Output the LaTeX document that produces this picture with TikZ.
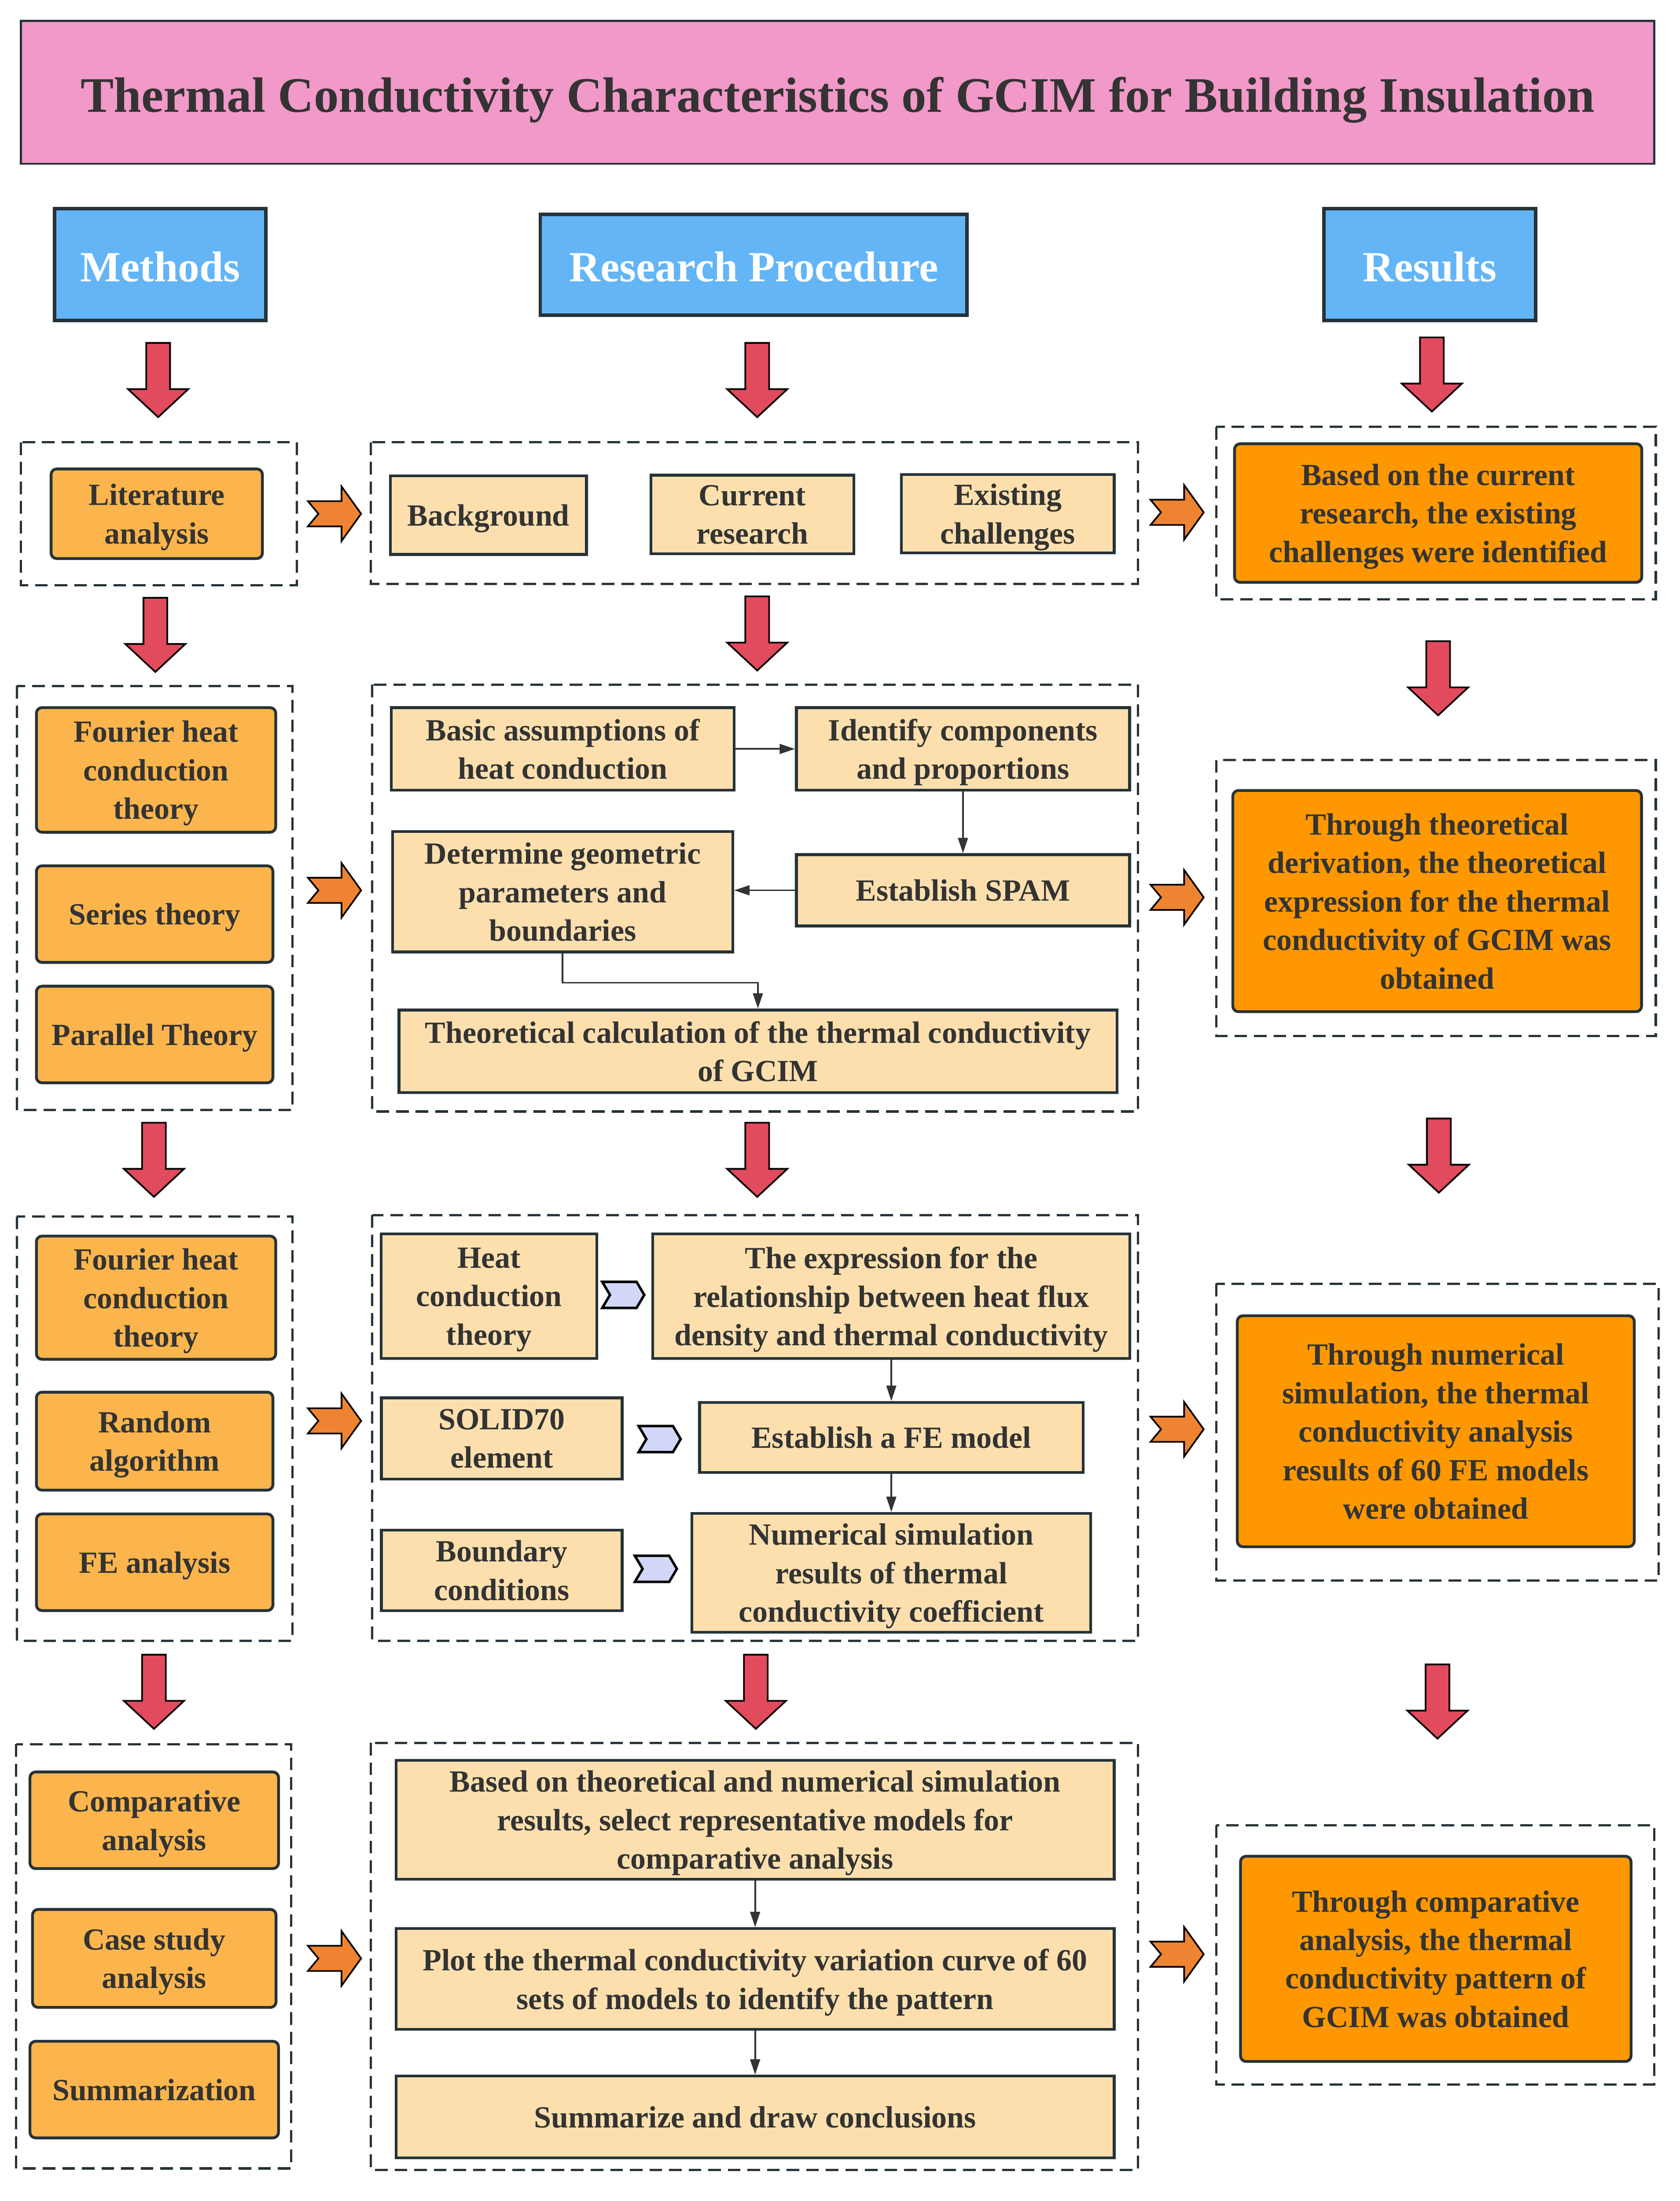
\documentclass[tikz,border=0pt]{standalone}
\usepackage{fontspec}
\setmainfont{Liberation Serif}
\usetikzlibrary{arrows.meta}
\definecolor{TitlePink}{HTML}{F199C8}
\definecolor{HeadBlue}{HTML}{64B5F6}
\definecolor{MethOrange}{HTML}{FBB54C}
\definecolor{StepPeach}{HTML}{FDDFAE}
\definecolor{ResOrange}{HTML}{FF9800}
\definecolor{ArrowRed}{HTML}{E24A5E}
\definecolor{ArrowOrange}{HTML}{EE8431}
\definecolor{ChevronBlue}{HTML}{D3D7F7}
\definecolor{EdgeDark}{HTML}{263238}
\definecolor{TextDark}{HTML}{333333}

\begin{document}
\begin{tikzpicture}[x=1pt, y=-1pt,
    box/.style={draw=EdgeDark, line width=2pt, align=center, text=TextDark, inner sep=2pt,
        text depth=0pt, font=\fontsize{22}{27.5}\selectfont\bfseries},
    methbox/.style={box, fill=MethOrange, rounded corners=4pt},
    stepbox/.style={box, fill=StepPeach},
    resbox/.style={box, fill=ResOrange, rounded corners=4pt},
    headbox/.style={draw=EdgeDark, line width=2.5pt, fill=HeadBlue, text=white,
        text height=24pt, text depth=0pt, font=\fontsize{30.7}{36}\selectfont\bfseries},
    titlebox/.style={draw=EdgeDark, line width=1.5pt, fill=TitlePink, text=TextDark,
        text height=28pt, text depth=0pt, font=\fontsize{35.5}{42}\selectfont\bfseries},
    groupbox/.style={draw=EdgeDark, line width=1.6pt, dash pattern=on 9pt off 5pt},
    link/.style={draw=TextDark, line width=1.2pt, -{Triangle[length=11pt,width=7pt]}},
    redarrow/.style={draw=black, line width=1.2pt, fill=ArrowRed, line join=miter},
    orangearrow/.style={draw=black, line width=1.2pt, fill=ArrowOrange, line join=miter},
    chevron/.style={draw=black, line width=1.8pt, fill=ChevronBlue, line join=miter}]

    \fill[white] (0,0) rectangle (1200,1572.3);
    \useasboundingbox (0,0) rectangle (1200,1572.3);

    \node[titlebox, minimum width=1167pt, minimum height=102pt] (title) at (598.5,66)
        {Thermal Conductivity Characteristics of GCIM for Building Insulation};

    \node[headbox, minimum width=151pt, minimum height=80pt] (methods) at (114.5,189) {Methods};
    \node[headbox, minimum width=305pt, minimum height=72pt] (procedure) at (538.5,189) {Research Procedure};
    \node[headbox, minimum width=151pt, minimum height=80pt] (results) at (1021.5,189) {Results};

    % dashed groups
    \draw[groupbox] (15,316) rectangle (212,418);
    \draw[groupbox] (265,316) rectangle (813,417);
    \draw[groupbox] (869,305) rectangle (1183,428);
    \draw[groupbox] (12,490) rectangle (209,793);
    \draw[groupbox] (266,489) rectangle (813,794);
    \draw[groupbox] (869,543) rectangle (1183,740);
    \draw[groupbox] (12,869) rectangle (209,1172);
    \draw[groupbox] (266,868) rectangle (813,1172);
    \draw[groupbox] (869,917) rectangle (1185,1129);
    \draw[groupbox] (11.5,1246) rectangle (208,1549);
    \draw[groupbox] (265,1245) rectangle (813,1550);
    \draw[groupbox] (869,1304) rectangle (1182,1489);

    % first stage
    \node[methbox, minimum width=151pt, minimum height=64pt] (lit) at (112,367) {Literature\\analysis};
    \node[stepbox, minimum width=140pt, minimum height=56pt] (backgr) at (349,368) {Background};
    \node[stepbox, minimum width=145pt, minimum height=56pt] (current) at (537.5,367.5) {Current\\research};
    \node[stepbox, minimum width=152pt, minimum height=56pt] (existing) at (720,367) {Existing\\challenges};
    \node[resbox, minimum width=291pt, minimum height=99pt] (res1) at (1027.5,366.5)
        {Based on the current\\research, the existing\\challenges were identified};

    % second stage
    \node[methbox, minimum width=171pt, minimum height=89pt] (fourier1) at (111.5,550) {Fourier heat\\conduction\\theory};
    \node[methbox, minimum width=169pt, minimum height=69pt] (series) at (110.5,653) {Series theory};
    \node[methbox, minimum width=169pt, minimum height=69pt] (parallel) at (110.5,739) {Parallel Theory};
    \node[stepbox, minimum width=245pt, minimum height=59pt] (basic) at (402,535) {Basic assumptions of\\heat conduction};
    \node[stepbox, minimum width=238pt, minimum height=59pt] (ident) at (688,535) {Identify components\\and proportions};
    \node[stepbox, minimum width=243pt, minimum height=86pt] (determ) at (402,637) {Determine geometric\\parameters and\\boundaries};
    \node[stepbox, minimum width=238pt, minimum height=51pt] (spam) at (688,636) {Establish SPAM};
    \node[stepbox, minimum width=513pt, minimum height=59pt] (theo) at (541.5,751)
        {Theoretical calculation of the thermal conductivity\\of GCIM};
    \node[resbox, minimum width=292pt, minimum height=158pt] (res2) at (1026.8,643.7)
        {Through theoretical\\derivation, the theoretical\\expression for the thermal\\conductivity of GCIM was\\obtained};

    \draw[link] (basic) -- (ident);
    \draw[link] (ident) -- (spam);
    \draw[link] (spam.west) -- (determ.east |- spam.west);
    \draw[link] (determ.south) -- ++(0,21) -| (theo.north);

    % third stage
    \node[methbox, minimum width=171pt, minimum height=88pt] (fourier2) at (111.5,927) {Fourier heat\\conduction\\theory};
    \node[methbox, minimum width=169pt, minimum height=70pt] (random) at (110.5,1029.5) {Random\\algorithm};
    \node[methbox, minimum width=169pt, minimum height=69pt] (fea) at (110.5,1116) {FE analysis};
    \node[stepbox, minimum width=154pt, minimum height=89pt] (heat) at (349.4,926) {Heat\\conduction\\theory};
    \node[stepbox, minimum width=341pt, minimum height=89pt] (expr) at (636.8,926)
        {The expression for the\\relationship between heat flux\\density and thermal conductivity};
    \node[stepbox, minimum width=172pt, minimum height=58pt] (solid) at (358.5,1027.6) {SOLID70\\element};
    \node[stepbox, minimum width=274pt, minimum height=50pt] (femodel) at (636.8,1026.8) {Establish a FE model};
    \node[stepbox, minimum width=172pt, minimum height=57.5pt] (bound) at (358.5,1121.8) {Boundary\\conditions};
    \node[stepbox, minimum width=285pt, minimum height=85pt] (numer) at (636.8,1123.6)
        {Numerical simulation\\results of thermal\\conductivity coefficient};
    \node[resbox, minimum width=283.6pt, minimum height=165pt] (res3) at (1025.8,1022.4)
        {Through numerical\\simulation, the thermal\\conductivity analysis\\results of 60 FE models\\were obtained};

    \draw[link] (expr) -- (femodel);
    \draw[link] (femodel) -- (numer);

    % fourth stage
    \node[methbox, minimum width=177.6pt, minimum height=69pt] (compar) at (110.2,1300.3) {Comparative\\analysis};
    \node[methbox, minimum width=174pt, minimum height=70pt] (casest) at (110.2,1399) {Case study\\analysis};
    \node[methbox, minimum width=177.6pt, minimum height=69pt] (summ) at (110.2,1492.7) {Summarization};
    \node[stepbox, minimum width=513pt, minimum height=85pt] (based) at (539.5,1300)
        {Based on theoretical and numerical simulation\\results, select representative models for\\comparative analysis};
    \node[stepbox, minimum width=513pt, minimum height=72pt] (plot) at (539.5,1413.7)
        {Plot the thermal conductivity variation curve of 60\\sets of models to identify the pattern};
    \node[stepbox, minimum width=513pt, minimum height=58.5pt] (concl) at (539.5,1512.3) {Summarize and draw conclusions};
    \node[resbox, minimum width=279pt, minimum height=146.6pt] (res4) at (1025.8,1399.3)
        {Through comparative\\analysis, the thermal\\conductivity pattern of\\GCIM was obtained};

    \draw[link] (based) -- (plot);
    \draw[link] (plot) -- (concl);

    % block arrows
    \foreach \x/\y in {113/245, 541/245, 1023/241, 111/427, 541/426, 1027.5/458,
                       110/802, 541/802, 1028/799, 110/1182, 540/1182, 1027/1189} {
    \draw[redarrow] (\x-8.5,\y) -- (\x+8.5,\y) -- (\x+8.5,\y+33) -- (\x+21.5,\y+33) -- (\x,\y+53)
        -- (\x-21.5,\y+33) -- (\x-8.5,\y+33) -- cycle;
    }
    \foreach \x/\y in {220/367, 822/366, 220/636, 822/641, 220/1015, 822/1021, 220/1399, 822/1396} {
    \draw[orangearrow] (\x,\y-9) -- (\x+24,\y-9) -- (\x+24,\y-19.5) -- (\x+38,\y) -- (\x+24,\y+19.5)
        -- (\x+24,\y+9) -- (\x,\y+9) -- (\x+7.5,\y) -- cycle;
    }
    \foreach \x/\y in {445.3/925, 471.3/1028, 468.6/1120.7} {
    \draw[chevron] (\x-15,\y-9.3) -- (\x+9.5,\y-9.3) -- (\x+15,\y) -- (\x+9.5,\y+9.3)
        -- (\x-15,\y+9.3) -- (\x-9.5,\y) -- cycle;
    }

\end{tikzpicture}
\end{document}
